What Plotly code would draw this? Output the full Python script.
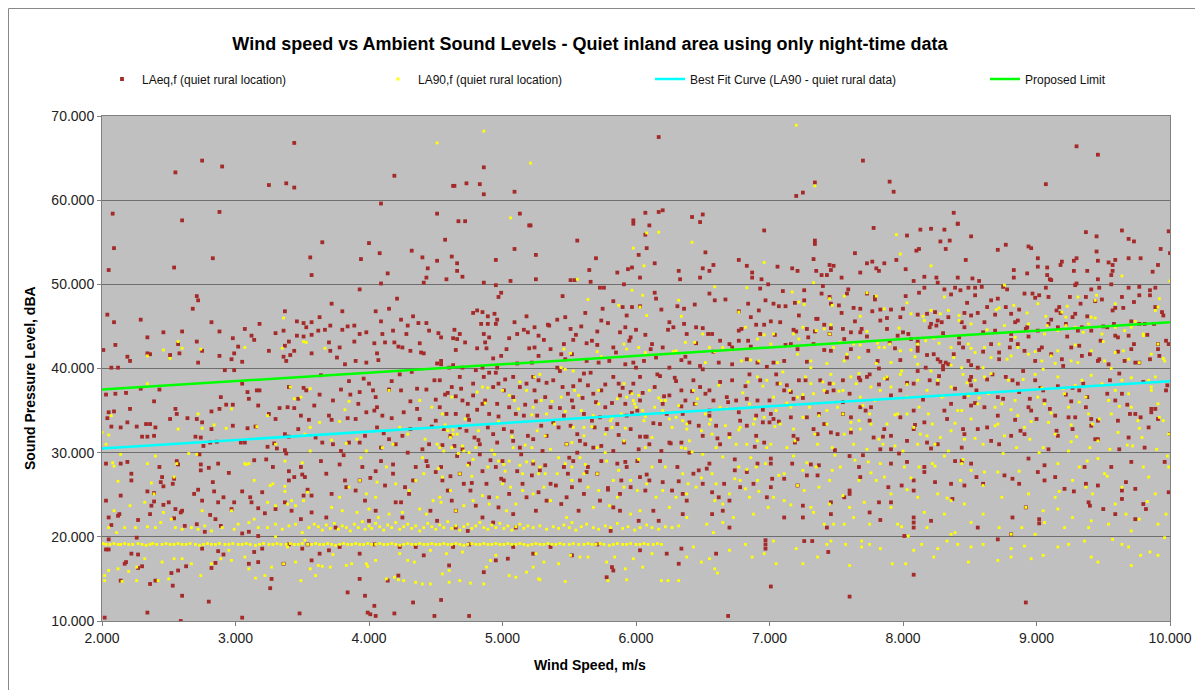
import plotly.graph_objects as go

# ---------------- LAeq,f (quiet rural location): (wind speed m/s, dBA) ----------------
laeq_2_3 = [(2.03,36.9),(2.10,37.0),(2.18,37.1),(2.29,37.6),(2.43,37.5),(2.39,36.1),(2.55,35.2),(2.56,34.6),(2.51,34.0),(2.05,34.8),(2.09,34.9),(2.04,34.1),(2.07,33.1),(2.14,33.0),(2.19,33.6),(2.26,33.1),(2.33,33.4),(2.36,33.4),(2.40,33.0),(2.30,31.9),(2.34,31.9),(2.39,32.0),(2.21,35.2),(2.71,34.0),(2.64,34.1),(2.75,33.6),(2.82,32.8),(2.89,36.6),(2.93,35.7),(2.88,35.2),(2.82,34.9),(2.98,35.7),(2.98,33.2),(2.70,31.9),(2.74,31.8),(2.81,31.2),(2.86,31.3),(2.76,30.8),(2.03,28.7),(2.14,28.7),(2.19,28.9),(2.22,27.5),(2.22,26.7),(2.43,28.3),(2.45,27.1),(2.46,26.0),(2.44,26.5),(2.53,26.3),(2.54,26.9),(2.56,29.0),(2.57,28.6),(2.73,29.8),(2.74,28.6),(2.74,27.9),(2.80,28.2),(2.87,28.7),(2.83,26.5),(2.84,25.4),(2.91,24.7),(2.95,27.6),(2.72,25.6),(2.69,25.1),(2.03,24.3),(2.14,24.9),(2.34,25.4),(2.39,25.2),(2.39,24.2),(2.46,23.8),(2.50,24.1),(2.55,23.3),(2.60,23.1),(2.54,22.2),(2.59,22.9),(2.36,22.7),(2.27,22.0),(2.13,22.7),(2.12,22.5),(2.05,22.3),(2.07,21.4),(2.26,19.9),(2.05,19.7),(2.05,18.5),(2.03,18.5),(2.22,18.0),(2.27,17.9),(2.18,17.0),(2.17,16.8),(2.30,16.5),(2.27,16.3),(2.14,14.8),(2.36,14.4),(2.40,14.8),(2.53,14.2),(2.52,15.7),(2.57,16.0),(2.63,16.5),(2.60,13.0),(2.80,12.3),(2.34,11.0),(2.59,10.0),(2.02,10.4),(2.62,21.3),(2.71,21.5),(2.85,22.1),(2.89,21.3),(2.87,18.3),(2.91,17.9),(2.82,16.3),(2.85,16.9),(2.75,18.6),(2.77,20.6),(2.81,22.6),(2.75,24.3),(2.87,24.1),(2.99,24.1),(2.97,23.3),(2.37,23.7),
    (2.75,64.7),(2.90,64.0),(2.55,63.3),(2.08,58.4),(2.88,58.6),(2.60,57.6),(2.09,54.3),(2.83,53.1),(2.05,51.7),(2.54,52.0),(2.71,48.6),(2.72,48.1),(2.68,47.1),(2.04,46.4),(2.09,45.5),(2.29,45.8),(2.82,45.5),(2.46,44.3),(2.60,44.4),(2.88,44.4),(2.34,43.7),(2.10,42.8),(2.57,42.9),(2.71,43.2),(2.01,42.2),(2.19,41.4),(2.21,40.9),(2.34,41.8),(2.36,41.7),(2.51,41.6),(2.58,41.8),(2.72,40.7),(2.75,42.1),(2.88,41.5),(2.98,43.6),(2.99,41.8),(2.97,41.1),(2.92,39.8),(2.99,39.8),(2.07,40.1),(2.12,40.1)]

laeq_3_36 = [(3.05,38.2),(3.09,37.2),(3.16,37.4),(3.18,37.4),(3.10,36.4),(3.17,35.6),(3.25,34.6),(3.30,34.0),(3.33,35.3),(3.39,35.4),(3.44,35.3),(3.49,34.4),(3.55,33.9),(3.59,35.6),(3.51,37.7),(3.53,37.4),(3.47,36.4),(3.40,37.8),(3.09,32.9),(3.15,33.1),(3.07,31.2),(3.04,31.2),(3.24,30.7),(3.29,31.1),(3.31,30.5),(3.37,32.2),(3.40,31.9),(3.47,32.8),(3.60,31.8),(3.14,29.1),(3.23,29.2),(3.28,28.3),(3.37,30.3),(3.38,29.9),(3.40,27.8),(3.44,27.1),(3.40,26.7),(3.49,28.3),(3.50,27.4),(3.52,27.1),(3.54,25.6),(3.57,24.9),(3.05,25.4),(3.11,24.7),(3.12,24.1),(3.20,25.3),(3.17,23.4),(3.22,22.8),(3.30,23.3),(3.37,24.1),(3.42,23.1),(3.49,22.1),(3.51,24.9),(3.57,22.9),(3.05,20.4),(3.10,20.6),(3.17,20.1),(3.20,18.6),(3.14,18.2),(3.17,17.0),(3.26,13.9),(3.05,10.4),(3.48,10.9),(3.50,18.6),(3.57,17.2),(3.54,19.1),(3.40,19.1),(3.36,16.8),(3.27,15.0),(3.10,16.8),
    (3.44,66.8),(3.25,61.8),(3.38,62.0),(3.44,61.5),(3.56,53.2),(3.57,51.1),(3.02,42.6),(3.05,40.8),(3.07,44.7),(3.12,43.9),(3.14,43.4),(3.18,45.3),(3.25,42.1),(3.30,44.2),(3.36,44.5),(3.37,46.8),(3.46,45.6),(3.51,45.4),(3.53,44.9),(3.57,45.5),(3.46,43.9),(3.51,43.8),(3.57,44.0),(3.40,43.2),(3.37,42.7),(3.44,42.1),(3.41,41.6),(3.38,40.9),(3.36,41.4),(3.57,41.8)]

laeq_36_52 = [(4.86,63.9),(4.63,61.7),(4.64,61.7),(4.73,62.0),(4.83,61.9),(4.86,60.7),(5.09,61.0),(4.19,62.9),(4.09,59.6),(5.13,58.4),(4.51,58.4),(4.67,57.5),(4.72,57.5),(3.65,55.0),(4.00,54.9),(4.08,53.7),(3.94,53.0),(4.32,54.0),(4.40,53.2),(4.51,52.8),(4.57,55.3),(4.62,53.3),(4.66,52.5),(4.66,51.6),(4.70,50.9),(4.58,50.6),(4.44,51.9),(4.43,50.8),(4.41,50.2),(4.14,51.3),(4.09,50.1),(3.93,49.4),(5.09,54.2),(4.95,52.9),(4.86,50.2),(4.95,49.9),(5.06,50.4),(5.20,57.0),
    (3.72,47.7),(3.80,46.8),(3.63,46.1),(3.71,45.1),(3.62,44.5),(3.67,44.6),(3.80,44.6),(3.84,45.0),(3.89,45.1),(3.93,44.1),(3.98,44.3),(4.05,46.8),(4.15,47.1),(4.21,48.3),(4.09,45.6),(4.18,44.5),(4.10,44.1),(4.04,43.0),(4.12,43.1),(4.24,45.8),(4.29,45.1),(4.28,44.1),(4.33,46.2),(4.37,45.4),(4.43,45.4),(4.45,44.5),(4.38,43.0),(4.25,42.5),(4.31,42.1),(4.39,41.9),(4.19,43.1),(4.06,41.8),(3.98,40.7),(3.90,40.9),(3.82,40.5),(3.71,42.1),(3.70,43.1),(3.78,42.5),(4.54,43.7),(4.64,44.6),(4.68,44.1),(4.66,43.5),(4.63,43.6),(4.65,42.2),(4.54,40.9),(4.51,40.6),(4.78,46.6),(4.81,46.9),(4.85,46.7),(4.89,46.2),(4.94,46.5),(4.96,45.8),(4.95,45.3),(4.89,45.3),(4.86,44.1),(4.90,43.7),(4.87,43.1),(4.81,42.4),(4.88,42.4),(4.97,48.5),(4.99,49.0),(4.99,41.5),(5.03,42.3),(5.09,45.5),(5.11,44.1),(5.16,44.6),(5.19,44.3),(5.18,46.2),(4.96,40.1),(4.90,39.5),(4.85,40.1),(4.70,40.1),(4.60,40.1),(4.54,40.5),
    (3.63,36.9),(3.73,36.2),(3.79,37.5),(3.85,38.5),(3.92,35.8),(4.03,37.4),(4.05,36.6),(4.06,35.4),(3.98,34.8),(3.90,34.0),(3.84,34.1),(3.70,34.4),(3.65,31.2),(3.73,31.0),(3.79,30.2),(3.85,31.2),(3.97,32.0),(4.06,33.0),(4.10,34.4),(4.17,34.1),(4.24,37.4),(4.31,36.1),(4.36,37.6),(4.43,37.5),(4.38,34.0),(4.31,32.8),(4.25,32.0),(4.20,31.0),(4.15,31.6),(4.09,30.6),(4.49,38.6),(4.53,38.6),(4.59,37.1),(4.62,37.8),(4.65,36.7),(4.70,36.2),(4.74,35.8),(4.78,36.8),(4.81,35.1),(4.85,35.8),(4.93,37.8),(4.97,38.2),(5.01,37.4),(5.08,36.6),(5.13,37.8),(5.18,38.2),(5.05,35.4),(5.10,34.6),(5.16,34.4),(4.53,35.4),(4.50,33.8),(4.56,32.8),(4.61,32.0),(4.68,33.0),(4.73,32.6),(4.79,31.8),(4.83,31.0),(4.89,33.0),(4.93,32.2),(4.96,31.2),(5.01,32.8),(5.08,31.4),(5.13,30.6),(5.19,32.0),(4.45,31.0),(4.40,30.4),(4.64,30.8),(4.70,30.4),(4.50,36.3),(4.58,34.6),(4.65,34.6),(4.74,34.4),(4.90,34.6),(4.96,35.8),(4.78,38.2),(4.68,39.0),(4.86,39.0),(4.95,39.5),(5.08,39.0),(4.23,39.3),(4.17,38.5),(3.93,37.2),(4.00,38.2),
    (3.64,29.0),(3.78,28.6),(3.82,26.7),(3.83,25.9),(3.93,26.7),(3.97,24.3),(4.05,23.1),(4.00,21.9),(4.09,29.0),(4.05,27.8),(4.12,26.1),(4.18,27.5),(4.24,24.1),(4.25,22.3),(4.30,25.1),(4.33,26.7),(4.35,28.3),(4.43,29.0),(4.50,27.7),(4.54,28.3),(4.55,26.7),(4.59,25.5),(4.62,24.3),(4.65,23.1),(4.68,27.5),(4.71,26.3),(4.75,28.7),(4.76,25.5),(4.80,23.7),(4.83,29.8),(4.85,27.8),(4.88,26.3),(4.90,24.7),(4.95,28.3),(4.97,23.5),(5.00,29.0),(5.01,26.7),(5.05,25.1),(5.08,22.7),(5.11,27.8),(5.15,26.3),(5.18,24.7),(4.46,23.1),(4.51,21.9),(4.65,21.1),(4.74,20.7),(4.85,22.3),(4.93,21.7),(5.10,21.1),(4.20,24.1),(4.27,25.9),(3.95,28.3),(3.90,25.5),(3.72,25.1),(3.68,22.3),(3.75,21.1),
    (3.63,18.0),(3.70,18.4),(3.78,18.8),(3.84,13.4),(3.97,13.0),(3.93,15.0),(3.99,11.0),(4.01,10.8),(4.04,11.8),(4.05,10.6),(4.19,10.9),(4.14,14.8),(4.22,15.4),(4.33,12.2),(4.41,17.8),(4.49,10.6),(4.54,12.5),(4.60,16.6),(4.75,10.6),(4.86,15.8),(4.95,17.2),(5.04,17.4),(5.08,18.8),(4.23,18.8),(4.35,18.8),(3.93,18.0),(4.04,19.1),(4.75,19.1),(4.63,18.8)]

laeq_52_68 = [(6.17,67.5),(5.21,57.0),(5.98,57.6),(6.07,58.5),(6.17,58.6),(6.20,58.8),(6.42,58.0),(6.50,58.3),(6.48,57.4),(6.10,57.0),(5.98,57.2),(6.07,55.9),(5.56,55.2),(5.25,53.5),(5.70,53.1),(6.02,53.5),(6.08,54.3),(6.14,52.5),(6.52,53.8),(6.77,52.9),(5.65,51.7),(5.86,51.4),(5.94,51.8),(5.97,52.0),(6.03,50.8),(6.32,51.6),(6.33,50.6),(6.48,50.8),(6.50,51.9),(6.55,51.6),(6.58,52.3),(5.25,50.6),(5.51,50.5),(5.54,50.5),(5.66,50.3),(5.73,49.6),(5.76,49.6),(5.91,50.0),(6.14,49.0),(6.15,48.3),(6.19,47.0),(5.93,46.3),(5.83,48.0),(5.97,47.3),(6.03,47.4),(5.90,47.3),(5.45,48.6),(5.62,46.6),(5.75,47.1),(6.31,47.4),(6.36,47.1),(6.44,47.6),(6.55,48.9),(6.59,48.1),(6.67,48.2),(6.77,46.8),(6.77,44.5),
    (5.24,44.9),(5.27,43.9),(5.31,43.4),(5.34,45.2),(5.41,45.8),(5.47,46.1),(5.51,44.7),(5.53,43.4),(5.59,45.0),(5.63,43.0),(5.67,43.3),(5.71,44.4),(5.74,45.7),(5.79,45.4),(5.83,42.5),(5.88,44.3),(5.92,44.9),(5.96,43.7),(6.00,44.6),(6.07,44.0),(6.12,42.9),(6.20,42.5),(6.25,45.5),(6.28,44.9),(6.36,45.3),(6.38,44.1),(6.45,44.9),(6.50,44.8),(6.54,44.1),(6.57,44.1),(6.63,43.3),(6.70,42.9),(6.77,43.3),(5.46,42.9),(5.24,42.5),(5.36,42.3),(5.44,41.7),(5.52,41.7),(5.63,40.9),(5.72,40.7),(5.80,40.9),(5.92,40.5),(5.98,40.7),(6.06,40.9),(6.15,41.3),(6.25,40.1),(6.34,41.0),(6.40,40.7),(6.48,40.3),(6.62,40.7),(6.72,42.5),(5.22,40.7),(5.41,40.1),
    (5.23,39.0),(5.24,37.4),(5.27,38.6),(5.32,36.6),(5.36,35.4),(5.26,34.4),(5.29,33.2),(5.33,32.0),(5.23,31.6),(5.38,38.6),(5.43,39.7),(5.45,37.8),(5.49,37.0),(5.52,36.2),(5.53,35.4),(5.46,34.4),(5.42,33.0),(5.51,33.2),(5.56,32.2),(5.48,31.0),(5.58,38.6),(5.61,39.4),(5.64,38.0),(5.68,37.0),(5.70,36.0),(5.74,37.4),(5.77,35.4),(5.61,34.6),(5.67,33.8),(5.73,34.2),(5.78,32.8),(5.62,31.0),(5.68,30.6),(5.83,39.0),(5.87,38.2),(5.88,36.8),(5.92,35.8),(5.96,37.2),(5.98,38.2),(6.03,39.0),(6.03,36.2),(6.01,35.0),(5.93,34.4),(5.86,33.4),(5.96,32.8),(6.03,31.9),(6.07,31.9),(6.08,31.9),(6.10,31.0),(5.91,31.2),(6.14,37.8),(6.18,39.1),(6.20,35.8),(6.23,34.6),(6.18,33.4),(6.25,36.8),(6.30,38.5),(6.34,37.4),(6.37,36.2),(6.35,34.6),(6.40,33.6),(6.44,35.8),(6.48,37.8),(6.52,37.0),(6.55,37.4),(6.58,36.2),(6.55,34.4),(6.60,33.2),(6.50,32.0),(6.63,31.0),(6.68,36.6),(6.72,38.6),(6.75,36.2),(6.78,33.8),(6.34,31.2),(6.25,31.2),(6.19,30.2),(5.83,30.2),(5.56,30.0),(6.70,32.2),(6.43,38.6),
    (5.23,28.7),(5.28,27.9),(5.32,28.5),(5.36,26.3),(5.27,25.3),(5.33,24.3),(5.25,23.1),(5.46,28.3),(5.49,27.5),(5.52,25.9),(5.48,24.7),(5.44,23.9),(5.53,29.0),(5.58,26.7),(5.61,25.1),(5.57,23.1),(5.64,28.3),(5.71,27.5),(5.73,24.3),(5.74,29.0),(5.79,25.8),(5.83,23.5),(5.86,28.7),(5.89,26.7),(5.88,25.1),(5.93,28.3),(5.96,25.9),(6.01,29.0),(6.03,27.1),(6.07,25.5),(6.10,26.7),(6.13,23.1),(6.17,21.9),(6.20,26.5),(6.27,25.5),(6.31,28.3),(6.35,25.1),(6.38,24.3),(6.43,27.5),(6.47,27.9),(6.50,26.3),(6.55,28.7),(6.57,25.3),(6.62,24.7),(6.65,23.1),(6.70,24.3),(6.74,27.9),(6.78,25.9),(6.02,21.9),(5.88,23.1),(5.81,20.7),(6.57,22.7),(6.70,21.1),(6.35,22.7),
    (5.23,18.0),(5.36,18.8),(5.52,17.8),(5.82,16.4),(5.78,15.2),(5.83,16.0),(6.03,18.4),(6.32,16.8),(6.34,18.6),(6.60,18.0),(6.69,10.6),(5.71,19.1),(6.23,18.0)]

laeq_68_84 = [(7.70,64.7),(7.90,62.2),(7.93,61.0),(7.34,62.1),(7.20,60.5),(7.25,60.9),(8.38,58.5),(8.41,57.2),(6.96,56.4),(7.78,56.7),(8.13,56.5),(8.21,56.6),(8.31,56.5),(8.03,55.8),(8.28,55.1),(8.35,55.2),(8.32,54.2),(7.34,55.2),(7.34,54.8),(7.64,53.7),(8.10,54.0),(8.12,54.2),(7.33,53.0),(7.73,52.5),(7.77,52.7),(7.86,52.5),(7.95,52.9),(8.02,51.8),(6.83,52.2),(7.06,52.1),(7.17,51.9),(7.21,51.6),(7.35,51.6),(7.39,51.1),(7.43,51.1),(7.45,52.3),(7.48,52.2),(7.46,51.7),(7.68,51.4),(7.80,51.9),(7.82,51.6),(7.54,50.8),(6.87,51.4),(6.87,50.8),(6.94,50.6),(6.99,50.0),(8.08,50.4),(8.16,50.9),(8.25,50.8),(8.26,50.2),(8.16,49.6),(8.31,49.4),(8.39,49.6),
    (6.93,49.5),(6.84,47.7),(6.97,48.1),(7.03,47.7),(7.07,47.4),(7.12,47.4),(7.19,47.8),(7.26,48.1),(7.26,49.3),(7.39,48.9),(7.46,47.7),(7.45,48.5),(7.58,48.9),(7.59,49.4),(7.63,47.2),(7.68,47.1),(7.73,48.9),(7.79,48.5),(7.83,47.0),(7.91,47.0),(7.98,46.1),(8.02,48.6),(8.11,46.4),(8.18,46.5),(8.21,45.3),(8.26,45.7),(8.29,45.5),(8.34,46.1),(6.86,46.1),(6.90,45.2),(6.96,45.2),(6.93,44.1),(6.84,43.3),(7.01,45.6),(7.08,45.5),(7.18,44.6),(7.20,44.4),(7.28,44.7),(7.29,43.7),(7.35,45.9),(7.36,45.9),(7.41,45.2),(7.46,44.8),(7.45,44.1),(7.54,46.6),(7.55,44.7),(7.61,44.3),(7.68,44.3),(7.69,44.7),(7.77,46.8),(7.83,45.7),(7.88,44.7),(7.96,43.9),(8.00,44.3),(8.04,44.1),(8.11,43.2),(8.20,44.9),(8.25,45.1),(7.12,42.8),(7.21,42.3),(7.33,42.9),(7.41,42.2),(7.56,43.5),(7.61,42.3),(7.74,42.1),(7.81,40.9),(7.90,43.2),(7.98,41.0),(8.11,42.1),(8.11,42.5),(8.23,41.7),(8.26,41.1),(8.28,40.8),(8.30,40.3),(8.32,40.7),(8.34,40.5),(8.38,41.7),(7.11,40.9),(7.03,40.7),(6.91,40.7),(6.83,41.1),
    (6.85,39.3),(6.93,38.6),(7.05,39.3),(7.06,38.2),(7.11,37.4),(7.16,37.2),(7.18,36.4),(7.22,38.6),(7.27,38.6),(7.38,38.6),(7.45,38.2),(7.48,37.4),(7.55,38.6),(7.60,37.0),(7.68,38.6),(7.73,39.0),(7.75,39.3),(7.82,38.1),(7.88,38.8),(7.98,37.4),(8.08,38.2),(8.11,39.7),(8.17,40.1),(8.20,38.6),(8.26,38.2),(8.30,39.9),(6.83,36.4),(6.91,36.2),(7.00,36.2),(7.01,34.6),(6.90,34.4),(6.95,33.6),(7.00,33.6),(7.03,34.0),(6.83,33.2),(6.90,32.0),(6.96,31.2),(7.16,34.2),(7.18,32.0),(7.28,34.2),(7.33,32.8),(7.36,32.2),(7.41,33.4),(7.46,32.4),(7.51,32.2),(7.55,34.6),(7.61,34.2),(7.68,35.4),(7.72,35.0),(7.75,33.8),(7.78,31.8),(7.86,32.8),(7.91,32.0),(7.98,34.2),(8.03,31.4),(8.08,35.0),(8.16,33.6),(8.18,31.2),(8.26,31.0),(8.31,35.0),(8.36,35.8),(8.39,29.0),(7.21,31.6),(7.83,30.4),(7.91,30.4),(8.08,32.8),
    (6.83,27.7),(6.91,28.7),(6.88,26.3),(6.98,24.7),(7.01,25.9),(7.02,26.9),(7.11,26.9),(7.17,28.7),(7.21,26.1),(7.25,23.7),(7.25,22.3),(7.28,27.3),(7.36,27.3),(7.37,28.5),(7.46,22.7),(7.46,24.1),(7.56,24.7),(7.60,25.1),(7.60,25.5),(7.60,29.6),(7.67,28.3),(7.68,27.1),(7.75,22.9),(7.82,24.1),(7.89,25.9),(7.91,24.1),(7.83,22.0),(7.99,26.1),(8.08,26.7),(8.08,25.5),(8.08,22.3),(8.08,21.7),(8.08,21.1),(8.16,27.7),(8.16,28.3),(8.24,26.5),(8.36,26.3),(8.37,24.5),(8.21,21.9),(7.91,28.7),(8.03,28.9),(7.01,28.7),(7.11,22.3),
    (6.97,19.6),(6.97,19.1),(6.97,18.6),(7.26,19.5),(7.32,19.5),(7.44,18.2),(7.01,14.1),(7.60,12.9),(8.08,15.5),(8.01,20.1),(7.43,21.1)]

laeq_84_10 = [(9.07,61.9),(9.30,66.4),(9.46,65.4),(8.41,57.2),(8.51,55.7),(8.47,52.9),(8.71,54.1),(8.77,54.7),(8.94,54.5),(8.96,54.3),(9.01,53.1),(9.01,52.1),(9.08,52.0),(8.83,51.7),(8.83,50.8),(8.93,51.3),(9.19,52.7),(9.18,52.3),(9.28,52.8),(9.30,53.1),(9.28,51.6),(9.38,51.6),(9.37,56.2),(9.45,55.7),(9.45,53.9),(9.46,52.8),(9.54,52.6),(9.57,52.3),(9.59,52.9),(9.64,56.4),(9.69,55.4),(9.73,55.1),(9.69,53.1),(9.78,53.1),(9.87,51.5),(9.91,52.3),(9.93,54.2),(9.99,56.3),(10.00,53.7),(8.41,50.8),(8.52,50.7),(9.10,50.6),(9.11,50.5),(9.30,50.1),(9.46,50.6),(9.56,51.1),(9.57,51.6),
    (8.43,49.3),(8.49,49.6),(8.54,49.6),(8.59,49.7),(8.54,48.7),(8.63,47.3),(8.66,48.1),(8.71,48.3),(8.75,49.7),(8.77,47.3),(8.81,46.5),(8.86,45.7),(8.91,48.9),(8.97,48.9),(9.02,48.7),(9.07,49.6),(9.09,48.5),(9.15,46.9),(9.18,46.6),(9.25,48.5),(9.29,46.5),(9.33,47.7),(9.37,48.5),(9.41,49.4),(9.47,49.6),(9.49,48.2),(9.57,46.9),(9.59,47.2),(9.64,48.5),(9.69,49.6),(9.73,47.9),(9.77,49.7),(9.85,49.3),(9.85,48.7),(9.89,47.3),(9.94,46.7),(8.46,46.6),(8.44,45.5),(8.46,44.9),(8.51,46.3),(8.56,46.6),(8.61,45.5),(8.69,44.5),(8.81,44.1),(8.84,45.5),(8.92,44.7),(8.94,43.8),(9.01,44.5),(9.09,45.3),(9.16,44.9),(9.22,45.3),(9.27,46.1),(9.31,44.5),(9.34,44.9),(9.41,44.5),(9.48,43.3),(9.53,44.9),(9.58,45.3),(9.61,43.7),(9.69,43.9),(9.73,42.9),(9.77,45.3),(9.81,45.3),(9.88,45.3),(9.91,42.9),(9.97,43.3),(8.42,43.7),(8.45,42.5),(8.49,40.9),(8.56,40.1),(8.60,42.0),(8.66,42.9),(8.72,41.1),(8.80,42.5),(8.86,42.9),(8.91,42.1),(8.99,40.9),(9.04,42.5),(9.11,41.7),(9.19,41.1),(9.26,42.5),(9.34,41.5),(9.40,41.7),(9.46,40.9),(9.54,40.5),(9.61,42.0),(9.66,40.9),(9.71,42.3),(9.77,40.7),(9.85,41.1),(9.91,42.3),(9.99,42.9),
    (8.51,39.0),(8.50,38.6),(8.51,38.0),(8.55,37.4),(8.46,36.6),(8.51,35.6),(8.61,35.4),(8.67,39.3),(8.71,36.6),(8.71,34.4),(8.77,39.0),(8.82,38.6),(8.86,38.2),(8.87,37.2),(8.95,36.4),(8.99,38.6),(9.03,37.7),(9.06,36.2),(8.94,35.4),(9.00,34.0),(8.88,32.6),(8.91,32.2),(8.81,32.0),(8.72,31.0),(8.63,33.0),(8.56,32.8),(8.46,32.2),(8.44,30.6),(9.15,32.6),(9.16,32.0),(9.10,35.2),(9.16,37.9),(9.22,36.9),(9.27,37.7),(9.32,37.4),(9.38,36.6),(9.37,35.4),(9.41,34.0),(9.44,31.6),(9.46,31.6),(9.46,33.8),(9.55,38.6),(9.59,36.2),(9.64,37.0),(9.70,34.6),(9.74,34.6),(9.78,34.2),(9.84,33.0),(9.89,35.2),(9.91,34.0),(9.97,37.4),(10.00,32.2),(9.24,34.2),(9.27,32.8),(9.29,34.2),(9.61,33.8),(9.62,30.4),(9.69,31.8),(9.81,30.6),(9.86,35.2),(9.09,30.4),
    (8.44,29.0),(8.51,28.7),(8.55,27.1),(8.60,26.3),(8.46,26.1),(8.56,21.1),(8.76,27.3),(8.82,26.9),(8.87,26.3),(8.94,29.3),(9.01,27.7),(9.06,28.5),(9.06,26.7),(9.14,27.1),(9.21,25.7),(9.28,25.4),(9.36,28.3),(9.37,26.3),(9.39,24.1),(9.40,23.7),(9.46,26.1),(9.50,23.3),(9.56,28.3),(9.64,25.5),(9.64,24.5),(9.67,26.5),(9.71,28.9),(9.74,25.7),(9.80,23.9),(9.82,23.3),(9.96,28.9),(9.99,25.3),(8.82,22.3),(8.92,23.5),(9.02,22.1),(9.02,21.6),(9.59,22.7),(9.74,22.1),(8.81,20.3),(8.71,19.7),
    (8.92,12.2)]

# additional LAeq readings estimated in the densest parts of the cloud
laeq_dense_low = [(3.64,39.2),(3.68,27.5),(3.72,33.9),(3.76,41.3),(3.81,29.7),(3.86,36.9),(3.89,43.2),(3.93,31.2),(3.96,38.8),(4.01,27.0),(4.04,35.0),(4.07,41.0),(4.11,32.3),(4.15,37.5),(4.18,28.6),(4.22,42.6),(4.26,34.8),(4.29,30.0),
    (4.32,39.6),(4.36,35.2),(4.41,41.8),(4.44,28.4),(4.47,33.1),(4.52,44.2),(4.55,30.9),(4.57,36.9),(4.61,27.2),(4.63,40.4),(4.66,29.6),(4.69,37.6),(4.72,43.1),(4.75,33.9),(4.77,26.4),(4.80,39.8),(4.82,31.5),(4.84,45.3),(4.87,36.2),(4.91,29.1),(4.93,41.2),(4.97,34.3),(4.99,26.9),(5.02,38.7),(5.05,43.6),(5.07,32.5),(5.11,40.6),(5.14,29.8),(5.17,35.7),(5.20,42.4),(5.22,27.3),(5.25,36.1),(5.27,41.5),(5.30,30.2),(5.33,38.3),(5.35,45.1),(5.38,33.6),(5.40,26.1),(5.43,35.3),(5.47,41.1),(5.50,29.4),(5.53,37.9),(5.55,44.0),(5.58,31.4),(5.60,36.5),(5.63,27.7),(5.66,39.5),(5.69,33.0),(5.71,42.8),(5.74,30.8),(5.77,38.1),(5.79,25.6),(5.82,35.9),(5.85,41.9),(5.87,32.1),(5.90,37.7),(5.92,28.9),(5.95,43.3),(5.97,34.7),(6.00,40.1),(6.02,30.4),(6.05,37.1),(6.08,27.4),(6.11,42.3),(6.13,33.5),(6.16,39.3),(6.18,29.0),(6.21,36.7),(6.24,44.6),(6.26,31.1),(6.29,38.9),(6.32,26.6),(6.34,35.5),(6.37,41.4),(6.40,30.0),(6.42,37.3),(6.45,43.0),(6.47,33.2),(6.50,39.9),(6.53,28.1),(6.55,35.0),(6.58,42.0),(6.61,31.7),(6.63,38.4),(6.66,26.3),(6.69,36.0),(6.72,40.5),(6.74,29.2),(6.77,34.8),(6.79,44.7)]

laeq_dense_high = [(6.82,37.9),(6.86,42.6),(6.89,30.7),(6.92,46.9),(6.95,35.1),(6.98,40.2),(7.01,29.3),(7.04,44.0),(7.07,33.7),(7.10,49.2),(7.13,38.0),(7.16,42.9),(7.19,31.2),(7.22,46.3),(7.25,36.5),(7.28,40.8),(7.31,28.6),(7.34,44.4),(7.37,34.6),(7.40,49.8),(7.43,37.2),(7.46,42.1),(7.49,30.3),(7.52,47.5),(7.55,36.0),(7.58,41.3),(7.61,32.4),(7.64,45.6),(7.67,38.9),(7.70,29.7),(7.73,43.8),(7.76,35.4),(7.79,48.2),(7.82,40.0),(7.85,31.9),(7.88,46.0),(7.91,36.8),(7.94,42.4),(7.97,29.9),(8.00,47.1),(8.03,38.3),(8.06,43.5),(8.09,33.3),(8.12,49.0),(8.15,36.3),(8.18,41.6),(8.21,30.5),(8.24,46.7),(8.27,39.1),(8.30,44.2),(8.33,34.0),(8.36,48.8),(8.39,37.6),(8.42,43.0),(8.45,32.8),(8.48,47.8),(8.51,40.4),(8.54,35.9),(8.57,50.4),(8.60,44.3),(8.63,38.7),(8.66,31.4),(8.69,46.4),(8.72,41.9),(8.75,36.4),(8.78,49.4),(8.81,43.4),(8.84,33.9),(8.87,47.0),(8.90,39.7),(8.93,44.9),(8.96,35.0),(8.99,48.4),(9.02,42.2),(9.05,37.4),(9.08,51.1),(9.11,45.8),(9.14,34.4),(9.17,47.3),(9.20,40.3),(9.23,43.8),(9.26,36.1),(9.29,49.9),(9.32,42.7),(9.35,38.2),(9.38,46.2),(9.41,33.2),(9.44,48.0),(9.47,41.1),(9.50,45.0),(9.53,37.0),(9.56,50.0),(9.59,43.9),(9.62,39.4),(9.65,47.2),(9.68,35.7),(9.71,45.6),(9.74,40.7),(9.77,48.7),(9.80,38.4),(9.83,44.0),(9.86,34.8),(9.89,49.6),(9.92,41.5),(9.95,46.3),(9.98,38.0)]

# ---------------- LA90,f (quiet rural location) ----------------
la90_2_36 = [(3.36,46.0),(2.57,43.2),(2.46,42.2),(2.34,41.5),(2.51,41.2),(2.60,42.4),(2.74,42.3),(3.07,42.5),(3.35,42.4),(3.51,43.2),(3.53,43.1),(2.34,38.2),(2.07,34.4),(2.72,34.6),(2.97,35.2),(2.57,32.8),(2.75,32.9),(2.84,33.3),(2.93,32.9),(3.16,33.1),(3.24,34.4),(3.30,31.0),(3.41,37.8),(3.44,36.4),(3.49,36.6),(3.52,32.2),(3.56,37.6),(3.56,33.0),(2.00,32.4),(2.05,32.1),(2.03,31.0),(2.14,29.8),(2.08,28.8),(2.09,28.4),(2.34,28.7),(2.40,29.6),(2.65,29.9),(2.71,29.8),(3.08,28.6),(3.10,28.7),(3.37,29.0),(3.50,28.8),(3.56,30.2),(2.12,26.6),(2.37,26.4),(2.39,25.1),(2.54,27.1),(2.56,28.7),(3.07,28.7),(3.14,26.7),(3.26,26.1),(3.28,26.3),(3.37,26.0),(3.37,25.4),(3.39,23.9),(3.42,24.3),(3.51,24.3),(3.54,25.3),(2.09,23.1),(2.21,23.7),(2.32,24.1),(2.46,22.9),(2.75,23.1),(2.97,23.1),(3.24,24.1),(3.30,23.7),(3.45,23.7),
    (2.02,15.4),(2.05,16.0),(2.02,14.8),(2.12,16.2),(2.20,15.9),(2.26,16.4),(2.32,17.4),(2.45,17.0),(2.54,17.4),(2.60,17.4),(2.67,16.8),(2.74,15.4),(2.82,16.8),(2.89,17.4),(2.97,17.2),(2.95,18.4),(3.07,17.6),(3.10,16.2),(3.15,15.1),(3.22,15.4),(3.27,16.4),(3.36,16.8),(3.45,17.0),(3.49,14.8),(3.56,16.2),(3.60,15.4),(2.15,14.7),(2.26,14.8),(2.42,14.8),(2.50,15.0),(3.30,20.0),(3.39,18.8),(3.52,19.6)]

la90_36_52 = [(4.86,68.2),(4.51,66.8),(5.06,57.9),(3.67,42.4),(4.15,37.4),(3.85,36.1),(3.82,35.1),(3.63,33.6),(3.72,31.5),(3.78,33.7),(3.83,31.1),(3.91,31.6),(3.98,30.2),(3.94,29.4),(4.10,30.6),(4.18,31.0),(4.23,33.0),(4.29,32.2),(4.38,36.2),(4.40,29.4),(4.55,34.6),(4.54,33.0),(4.59,32.6),(4.61,31.8),(4.66,32.2),(4.70,30.8),(4.71,30.2),(4.51,31.0),(4.53,30.6),(4.56,30.2),(4.62,30.6),(4.75,30.0),(4.78,29.2),(4.80,30.6),(4.89,28.3),(4.94,29.8),(4.97,29.0),(5.01,28.6),(5.05,29.0),(5.08,30.6),(5.13,28.5),(5.15,27.5),(5.18,28.9),(4.85,37.8),(4.89,37.7),(5.00,37.4),(5.05,36.8),(5.09,36.2),(5.13,38.4),(5.18,37.4),(4.81,37.2),(4.63,32.7),(4.63,32.2),(4.68,27.5),(4.74,28.5),(4.61,25.5),(4.55,27.1),(4.53,24.7),(4.48,24.3),(4.41,27.5),(4.35,26.7),(4.30,25.5),(4.20,26.3),(4.13,28.3),(4.06,26.5),(4.05,24.7),(3.98,25.1),(3.93,26.7),(3.85,25.9),(3.78,24.7),(3.72,23.5),(3.80,23.1),(3.91,22.9),(4.00,23.3),(4.07,22.3),(4.15,22.7),(4.25,22.9),(4.38,23.3),(4.43,22.7),(4.54,24.1),(4.65,23.1),(4.71,23.7),(4.78,24.3),(4.85,24.9),(4.90,23.9),(4.96,24.7),(5.03,23.1),(5.10,23.9),(5.15,25.5),(5.06,25.9),(5.00,26.3),
    (3.62,16.6),(3.65,16.5),(3.71,16.4),(3.73,17.9),(3.83,16.6),(3.87,16.8),(3.98,16.8),(3.99,16.5),(4.05,17.2),(4.13,15.0),(4.19,15.2),(4.22,14.9),(4.26,14.8),(4.29,17.2),(4.34,17.0),(4.35,14.6),(4.40,14.4),(4.46,14.4),(4.55,15.6),(4.60,16.0),(4.60,14.6),(4.68,14.8),(4.76,14.5),(4.86,14.4),(4.88,16.4),(4.91,17.2),(4.95,17.8),(5.05,15.4),(5.10,15.2),(5.18,15.8),(4.23,18.0),(4.46,18.4),(4.58,18.0),(4.70,18.2)]

la90_52_68 = [(5.21,64.4),(6.08,56.1),(6.17,56.2),(6.42,55.0),(5.98,54.3),(6.06,52.2),(5.56,50.6),(6.59,49.7),(5.97,49.3),(6.05,48.7),(6.32,48.1),(5.64,48.2),(5.87,47.5),(6.03,47.3),(6.08,46.3),(6.34,46.2),(5.71,42.0),(5.74,41.4),(5.91,42.9),(5.93,42.3),(6.02,42.5),(6.07,41.9),(6.28,42.0),(6.30,42.1),(6.37,43.1),(6.44,43.1),(6.50,44.1),(6.55,42.5),(6.59,42.0),(6.65,42.5),(6.77,46.7),(6.79,40.9),(5.51,41.8),(5.46,42.3),(5.44,40.1),(5.24,39.0),(5.28,39.3),
    (5.23,35.4),(5.29,36.2),(5.33,34.6),(5.26,32.6),(5.22,30.6),(5.39,33.4),(5.44,36.6),(5.47,39.9),(5.53,39.7),(5.54,37.4),(5.59,35.0),(5.61,33.0),(5.61,32.0),(5.68,34.4),(5.72,37.4),(5.77,32.2),(5.81,33.8),(5.82,33.0),(5.86,36.4),(5.89,34.6),(5.93,36.6),(5.98,36.2),(5.99,35.8),(6.00,35.4),(6.02,36.8),(6.05,35.0),(6.06,33.8),(6.10,37.4),(6.14,35.4),(6.19,36.2),(6.20,35.0),(6.22,36.2),(6.25,34.0),(6.30,34.2),(6.35,33.8),(6.38,33.4),(6.38,32.8),(6.43,37.4),(6.45,35.8),(6.49,32.6),(6.52,34.6),(6.55,33.4),(6.57,32.2),(6.63,35.4),(6.67,33.2),(6.70,31.8),(6.78,33.0),(6.75,31.0),(6.60,30.6),(6.40,31.4),(6.34,30.6),(6.07,30.6),(5.91,31.4),(5.71,30.6),(5.48,31.0),(5.36,30.4),(5.53,33.0),(5.91,38.2),
    (5.23,29.0),(5.28,28.3),(5.32,27.5),(5.31,25.9),(5.23,25.1),(5.36,24.3),(5.41,27.5),(5.47,28.7),(5.52,28.3),(5.52,26.7),(5.58,29.4),(5.61,27.5),(5.64,25.9),(5.71,27.5),(5.72,25.5),(5.78,29.0),(5.83,26.7),(5.86,24.7),(5.91,25.9),(5.96,26.7),(6.01,25.5),(6.08,26.3),(6.12,28.3),(6.15,24.7),(6.20,25.5),(6.30,24.7),(6.35,27.5),(6.38,25.1),(6.39,26.3),(6.45,25.9),(6.50,29.8),(6.57,27.5),(6.60,26.3),(6.65,23.9),(6.70,25.1),(6.77,28.3),(6.78,26.7),(5.48,22.3),(5.52,21.7),(5.68,23.5),(5.80,23.7),(5.96,22.7),(6.03,23.1),(6.25,23.5),(6.38,22.3),(6.53,21.5),(6.58,20.5),(6.65,21.7),(6.73,22.3),
    (5.25,18.0),(5.31,17.0),(5.23,16.4),(5.27,15.0),(5.42,16.8),(5.51,17.8),(5.58,17.6),(5.64,17.6),(5.78,17.0),(5.84,17.6),(5.92,16.2),(5.98,17.4),(6.05,16.4),(6.12,18.0),(6.19,14.8),(6.24,14.8),(6.32,14.8),(6.38,17.6),(6.43,18.8),(6.49,17.0),(6.55,17.4),(6.59,16.2),(6.61,15.7),(6.70,18.4),(5.28,14.9),(5.47,14.7),(5.79,14.8),(5.93,14.9)]

la90_68_84 = [(7.20,68.9),(7.34,61.7),(6.96,52.6),(7.33,50.2),(7.95,55.9),(7.98,53.6),(8.21,52.2),(6.83,49.6),(7.17,49.1),(7.22,47.9),(7.26,47.6),(7.45,48.3),(7.47,47.5),(7.56,48.6),(7.68,46.2),(7.73,49.0),(7.80,48.6),(7.86,47.1),(8.03,47.8),(8.06,46.5),(8.16,45.7),(8.21,46.9),(8.28,46.5),(8.31,48.5),(8.34,46.9),(6.82,44.9),(6.91,43.5),(6.96,44.0),(7.03,44.1),(7.18,44.1),(7.25,44.9),(7.35,44.5),(7.41,44.7),(7.45,44.1),(7.48,42.5),(7.53,43.1),(7.63,42.9),(7.68,42.8),(7.81,43.0),(7.86,42.5),(7.90,42.9),(7.98,42.1),(8.06,42.2),(8.11,42.9),(8.17,43.3),(8.23,43.6),(8.36,42.5),(8.38,41.3),(6.92,40.9),(7.06,40.7),(7.21,41.7),(7.31,40.9),(7.43,40.6),(7.56,40.9),(7.67,41.3),(7.80,40.6),(7.91,40.7),(7.99,39.7),(8.11,40.5),
    (6.84,38.4),(6.91,39.0),(6.98,38.6),(7.03,36.6),(7.08,38.2),(7.15,37.4),(7.21,36.6),(7.27,39.0),(7.31,38.2),(7.33,37.0),(7.41,37.4),(7.46,39.3),(7.48,38.2),(7.55,37.4),(7.61,39.0),(7.65,38.2),(7.68,36.6),(7.76,37.8),(7.83,37.4),(7.86,38.8),(7.91,37.8),(7.98,39.3),(8.03,36.6),(8.11,38.6),(8.18,37.4),(8.26,38.6),(8.29,36.6),(8.36,37.8),(6.85,35.8),(6.88,33.4),(6.96,34.2),(7.05,35.0),(7.08,33.4),(7.16,35.4),(7.18,32.8),(7.25,34.2),(7.30,35.4),(7.37,34.4),(7.43,33.4),(7.51,35.4),(7.55,34.6),(7.56,32.2),(7.61,32.8),(7.67,33.8),(7.68,32.8),(7.75,34.6),(7.76,33.4),(7.82,31.6),(7.88,33.4),(7.96,34.6),(8.03,34.6),(8.08,33.0),(8.13,32.2),(8.19,34.6),(8.22,33.4),(8.28,31.8),(8.36,32.6),(8.41,35.0),(6.83,31.0),(6.91,31.4),(7.01,31.0),(7.13,30.6),(7.36,31.0),(7.47,30.6),(7.63,31.0),(7.73,30.4),(7.94,30.8),(8.11,31.0),(8.24,31.0),(8.34,30.2),
    (6.86,29.4),(6.90,28.3),(6.91,26.7),(6.85,24.7),(6.88,22.7),(6.99,23.5),(7.03,24.7),(7.11,24.3),(7.18,29.6),(7.21,26.1),(7.26,25.5),(7.31,23.5),(7.33,22.9),(7.41,21.5),(7.45,26.7),(7.47,27.9),(7.45,23.9),(7.48,21.5),(7.53,28.3),(7.56,21.5),(7.60,23.5),(7.63,22.3),(7.67,26.7),(7.71,24.1),(7.75,21.5),(7.80,26.7),(7.86,27.1),(7.91,25.1),(7.96,21.5),(7.99,21.2),(8.03,25.6),(8.11,24.7),(8.16,22.9),(8.18,21.1),(8.26,25.1),(8.31,22.7),(8.36,24.3),(8.39,20.5),(8.31,29.6),(8.22,28.7),(8.12,28.3),(8.01,28.3),(7.83,28.7),(7.74,28.9),(7.35,28.3),(7.25,27.9),(7.11,27.5),(6.97,28.7),(6.82,25.7),
    (6.82,19.1),(6.87,17.6),(6.96,18.0),(7.05,16.8),(7.03,19.5),(7.20,18.6),(7.25,16.8),(7.36,17.6),(7.43,19.1),(7.46,19.5),(7.57,19.1),(7.60,16.6),(7.69,18.8),(7.75,19.1),(7.83,18.6),(7.92,16.8),(8.02,16.8),(8.08,18.4),(8.14,19.1),(8.23,17.6),(8.26,18.6),(8.33,19.5),(8.36,20.3),(8.04,20.1),(7.69,19.5)]

la90_84_10 = [(9.64,51.0),(10.00,50.4),(8.76,49.9),(9.92,48.3),(9.91,47.3),(9.45,48.7),(9.44,48.1),(9.31,48.5),(9.41,46.1),(9.19,46.7),(9.22,46.1),(9.07,46.2),(9.01,47.7),(8.83,47.5),(8.70,47.0),(8.42,46.3),(8.51,45.3),(8.76,45.1),(8.94,45.3),(9.06,44.1),(9.16,44.5),(9.22,45.1),(9.29,44.9),(9.39,45.3),(9.49,44.1),(9.59,44.9),(9.66,44.5),(9.71,44.9),(9.80,44.1),(9.91,42.9),(8.49,42.9),(8.54,41.9),(8.61,42.5),(8.66,41.3),(8.72,42.9),(8.81,41.5),(8.86,42.5),(8.94,41.7),(9.04,40.9),(9.11,41.5),(9.16,42.1),(9.26,40.9),(9.31,40.7),(9.41,42.1),(9.51,40.9),(9.59,41.9),(9.69,41.1),(9.77,40.7),(9.86,41.7),(9.96,40.9),(8.44,40.1),(8.60,40.1),
    (8.45,39.3),(8.54,38.6),(8.49,36.8),(8.44,35.0),(8.51,34.0),(8.46,31.6),(8.61,39.0),(8.64,37.0),(8.69,35.4),(8.71,33.4),(8.76,32.0),(8.79,38.6),(8.84,36.2),(8.86,34.4),(8.91,33.0),(8.95,31.6),(8.99,39.3),(9.04,37.7),(9.06,35.8),(9.09,33.6),(9.14,32.2),(9.16,39.0),(9.21,37.0),(9.24,35.4),(9.26,33.3),(9.30,31.9),(9.34,38.6),(9.37,36.6),(9.39,34.6),(9.42,33.4),(9.46,31.4),(9.49,38.2),(9.54,36.2),(9.56,34.6),(9.61,32.4),(9.64,38.6),(9.69,37.0),(9.71,35.4),(9.76,33.8),(9.79,31.8),(9.84,38.6),(9.86,37.4),(9.91,35.8),(9.95,33.8),(9.99,32.2),(8.60,31.0),(8.85,30.6),(9.05,30.6),(9.24,30.2),(9.40,30.6),(9.55,30.4),(9.72,30.8),(9.90,30.4),(8.74,35.8),(9.01,36.6),(9.29,38.0),(9.59,37.4),(9.89,39.0),(8.56,35.8),
    (8.44,28.7),(8.51,27.9),(8.43,26.7),(8.46,23.9),(8.51,21.7),(8.60,22.7),(8.61,27.7),(8.71,27.7),(8.74,24.7),(8.81,20.3),(8.89,21.1),(8.92,23.5),(8.94,25.1),(8.99,20.3),(9.05,23.1),(9.06,21.7),(9.14,24.7),(9.16,23.3),(9.21,21.1),(9.27,26.7),(9.27,22.3),(9.32,28.3),(9.37,25.9),(9.39,21.1),(9.41,21.9),(9.42,25.1),(9.46,29.3),(9.51,27.5),(9.54,21.5),(9.59,23.9),(9.64,25.9),(9.67,22.7),(9.71,20.7),(9.77,22.1),(9.80,28.3),(9.84,27.1),(9.89,25.1),(9.91,21.5),(9.97,22.7),(9.99,28.3),(8.72,21.1),(9.16,28.7),
    (8.41,19.1),(8.51,18.8),(8.60,19.1),(8.49,17.0),(8.71,17.2),(8.81,18.6),(8.81,17.6),(8.91,18.9),(8.96,17.4),(9.05,17.8),(9.16,18.8),(9.24,19.1),(9.36,19.5),(9.41,17.6),(9.46,17.0),(9.57,19.7),(9.64,19.1),(9.69,18.8),(9.71,16.6),(9.78,17.8),(9.85,18.2),(9.91,17.8),(9.96,19.9)]

# additional LA90 readings estimated in the densest parts of the cloud
la90_dense_mid = [(4.42,31.6),(4.47,35.4),(4.52,28.1),(4.57,33.3),(4.62,36.6),(4.67,29.9),(4.72,34.0),(4.77,27.2),(4.82,32.6),(4.87,35.9),(4.92,30.3),(4.97,33.7),(5.02,27.8),(5.07,31.9),(5.12,35.2),(5.17,30.9),(5.22,34.5),(5.27,27.5),(5.32,32.0),(5.37,36.1),(5.42,29.4),(5.47,34.9),(5.52,31.2),(5.57,36.8),(5.62,28.6),(5.67,33.1),(5.72,35.8),(5.77,30.0),(5.82,34.1),(5.87,27.9),(5.92,32.9),(5.97,37.0),(6.02,29.2),(6.07,34.3),(6.12,31.8),(6.17,36.5),(6.22,28.3),(6.27,33.0),(6.32,35.6),(6.37,30.5)]

la90_dense_high = [(6.42,30.1),(6.46,36.4),(6.49,27.0),(6.52,40.7),(6.56,33.9),(6.59,24.3),(6.62,38.0),(6.65,29.5),(6.68,35.2),(6.71,42.2),(6.74,26.9),(6.77,32.7),(6.80,37.1),(6.83,28.0),(6.86,41.0),(6.89,34.0),(6.92,25.4),(6.95,37.9),(6.98,30.6),(7.01,42.9),(7.04,33.1),(7.07,27.3),(7.10,39.6),(7.13,35.9),(7.16,23.8),(7.19,31.4),(7.22,43.5),(7.25,36.9),(7.28,28.8),(7.31,40.1),(7.34,32.2),(7.37,25.9),(7.40,38.4),(7.43,35.0),(7.46,45.2),(7.49,29.7),(7.52,37.3),(7.55,24.9),(7.58,41.7),(7.61,33.6),(7.64,29.1),(7.67,39.4),(7.70,35.6),(7.73,44.4),(7.76,27.6),(7.79,36.2),(7.82,42.5),(7.85,31.0),(7.88,39.0),(7.91,23.5),(7.94,34.5),(7.97,44.8),(8.00,30.2),(8.03,38.1),(8.06,27.0),(8.09,41.4),(8.12,35.4),(8.15,46.2),(8.18,32.0),(8.21,39.7),(8.24,28.4),(8.27,43.0),(8.30,36.7),(8.33,24.6),(8.36,40.4),(8.39,33.5),(8.42,45.7),(8.45,29.2),(8.48,38.3),(8.51,42.4),(8.54,31.7),(8.57,36.5),(8.60,26.1),(8.63,44.6),(8.66,39.4),(8.69,33.2),(8.72,47.2),(8.75,29.9),(8.78,41.1),(8.81,35.1),(8.84,43.7),(8.87,27.8),(8.90,38.7),(8.93,46.6),(8.96,33.7),(8.99,42.0),(9.02,30.0),(9.05,39.9),(9.08,45.1),(9.11,34.7),(9.14,40.6),(9.17,25.4),(9.20,37.6),(9.23,47.4),(9.26,31.3),(9.29,42.8),(9.32,36.0),(9.35,44.3),(9.38,29.0),(9.41,39.2),(9.44,46.0),(9.47,34.0),(9.50,43.2),(9.53,27.2),(9.56,40.0),(9.59,47.7),(9.62,35.5),(9.65,42.1),(9.68,30.9),(9.71,38.9),(9.74,45.6),(9.77,32.9),(9.80,43.9),(9.83,24.2),(9.86,37.8),(9.89,46.9),(9.92,34.2),(9.95,41.2),(9.98,29.6)]

# dense horizontal clusters of LA90 readings near 19 dB and 21 dB (low wind speeds)
la90_band19 = [(2.01,19.2),(2.03,19.1),(2.06,19.1),(2.09,19.2),(2.12,19.1),(2.14,19.1),(2.17,19.2),(2.20,19.1),(2.23,19.1),(2.27,19.2),(2.30,19.1),(2.33,19.0),(2.36,19.1),(2.38,19.2),(2.41,19.1),(2.45,19.1),(2.48,19.2),(2.51,19.1),(2.54,19.1),(2.57,19.2),(2.60,19.1),(2.63,19.1),(2.66,19.2),(2.70,19.1),(2.73,19.0),(2.76,19.1),(2.79,19.2),(2.82,19.1),(2.85,19.1),(2.88,19.2),(2.92,19.1),(2.95,19.1),(2.98,19.2),(3.02,19.1),(3.05,19.1),(3.08,19.2),(3.11,19.1),(3.15,19.0),(3.18,19.1),(3.21,19.2),(3.25,19.1),(3.28,19.1),(3.31,19.2),(3.34,19.1),(3.38,19.1),(3.41,19.2),(3.44,19.1),(3.47,19.1),(3.50,19.2),(3.54,19.1),(3.57,19.1),(3.60,19.2),(3.63,19.1),(3.66,19.1),(3.69,19.2),(3.72,19.1),(3.75,19.0),(3.78,19.1),(3.81,19.2),(3.84,19.1),(3.87,19.1),(3.90,19.2),(3.93,19.1),(3.96,19.1),(3.99,19.2),(4.02,19.1),(4.05,19.1),(4.08,19.2),(4.11,19.1),(4.14,19.1),(4.17,19.2),(4.20,19.1),(4.23,19.0),(4.26,19.1),(4.29,19.2),(4.32,19.1),(4.35,19.1),(4.38,19.2),(4.41,19.1),(4.44,19.1),(4.47,19.2),(4.50,19.1),(4.53,19.1),(4.56,19.2),(4.59,19.1),(4.62,19.1),(4.65,19.2),(4.68,19.1),(4.71,19.0),(4.74,19.1),(4.77,19.2),(4.80,19.1),(4.83,19.1),(4.86,19.2),(4.89,19.1),(4.92,19.1),(4.95,19.2),(4.98,19.1),(5.01,19.1),(5.04,19.2),(5.07,19.1),(5.10,19.1),(5.13,19.2),(5.16,19.1),(5.19,19.0),(5.22,19.1),(5.25,19.2),(5.28,19.1),(5.31,19.1),(5.34,19.2),(5.37,19.1),(5.40,19.1),(5.43,19.2),(5.46,19.1),(5.50,19.1),(5.53,19.2),(5.57,19.1),(5.61,19.1),(5.64,19.2),(5.67,19.1),(5.70,19.1),(5.73,19.2),(5.76,19.1),(5.80,19.0),(5.83,19.1),(5.86,19.2),(5.90,19.1),(5.93,19.1),(5.96,19.2),(6.00,19.1),(6.03,19.1),(6.06,19.2),(6.09,19.1),(6.13,19.1),(6.16,19.2),(6.19,19.1)]

la90_band21 = [(2.05,21.1),(2.11,20.5),(2.17,21.1),(2.25,21.1),(2.34,21.2),(2.40,21.1),(2.44,21.7),(2.52,22.1),(2.55,21.1),(2.60,20.9),(2.67,21.1),(2.72,20.9),(2.77,21.3),(2.82,20.7),(2.90,21.1),(2.99,20.9),(3.02,21.5),(3.10,21.7),(3.14,22.1),(3.17,21.1),(3.24,21.1),(3.30,21.5),(3.35,20.9),(3.40,21.3),(3.45,21.5),(3.50,20.5),(3.55,21.1),(3.59,21.5),
    (3.62,21.2),(3.65,20.8),(3.68,21.4),(3.71,21.0),(3.74,21.6),(3.77,20.9),(3.80,21.3),(3.83,21.1),(3.86,20.7),(3.89,21.5),(3.92,21.1),(3.95,21.8),(3.97,20.9),(4.00,21.3),(4.02,21.0),(4.05,21.6),(4.08,21.2),(4.11,20.8),(4.14,21.4),(4.17,21.1),(4.20,21.7),(4.23,20.9),(4.26,21.2),(4.29,21.5),(4.32,21.0),(4.35,21.3),(4.38,20.7),(4.41,21.1),(4.44,21.6),(4.47,21.2),(4.50,20.9),(4.53,21.4),(4.56,21.1),(4.59,21.8),(4.62,21.0),(4.65,21.3),(4.68,20.8),(4.71,21.2),(4.74,21.5),(4.77,21.0),(4.80,21.3),(4.83,21.7),(4.86,21.1),(4.89,20.9),(4.92,21.4),(4.95,21.1),(4.98,21.6),(5.01,21.0),(5.04,21.3),(5.07,20.8),(5.10,21.2),(5.13,21.5),(5.16,21.0),(5.19,21.3),
    (5.23,21.1),(5.28,21.3),(5.33,20.9),(5.38,21.2),(5.42,21.0),(5.46,21.4),(5.50,21.1),(5.55,20.8),(5.59,21.2),(5.63,21.5),(5.68,21.1),(5.72,20.9),(5.77,21.3),(5.81,21.1),(5.86,21.6),(5.90,21.0),(5.94,21.2),(5.99,20.8),(6.03,21.1),(6.08,21.4),(6.12,21.1),(6.17,20.9),(6.22,21.2),(6.27,21.1),(6.32,21.3)]

# ---------------- lines ----------------
fit_x = [2, 4, 6, 8, 10]
fit_y = [30.5, 32.5, 34.5, 36.5, 38.5]
limit_x = [2, 10]
limit_y = [37.5, 45.5]

y_ticks = [10, 20, 30, 40, 50, 60, 70]
x_ticks = [2, 3, 4, 5, 6, 7, 8, 9, 10]

laeq = laeq_2_3 + laeq_3_36 + laeq_36_52 + laeq_52_68 + laeq_68_84 + laeq_84_10 + laeq_dense_low + laeq_dense_high
la90 = (la90_2_36 + la90_36_52 + la90_52_68 + la90_68_84 + la90_84_10 + la90_dense_mid + la90_dense_high
        + la90_band19 + la90_band21)
laeq_x = [p[0] for p in laeq]
laeq_y = [p[1] for p in laeq]
la90_x = [p[0] for p in la90]
la90_y = [p[1] for p in la90]

FONT = "Liberation Sans, Arial, sans-serif"
OFF = 8                      # page body margin: figure coords = screen coords - OFF
W, H = 1203 - OFF, 690 - OFF
L, R, T, B = 102 - OFF, 1170 - OFF, 116 - OFF, 621 - OFF

def px_x(sx):  # screen x -> paper fraction
    return (sx - OFF - L) / (R - L)

def px_y(sy):  # screen y -> paper fraction
    return (B - (sy - OFF)) / (B - T)

fig = go.Figure()
fig.add_trace(go.Scatter(x=laeq_x, y=laeq_y, mode="markers", name="LAeq,f (quiet rural location)",
                         marker=dict(symbol="square", size=3.8, color="#a52a2a"), legend="legend"))
fig.add_trace(go.Scatter(x=la90_x, y=la90_y, mode="markers", name="LA90,f (quiet rural location)",
                         marker=dict(symbol="square", size=2.8, color="#ffff00"), legend="legend2"))
fig.add_trace(go.Scatter(x=fit_x, y=fit_y, mode="lines", name="Best Fit Curve (LA90 - quiet rural data)",
                         line=dict(color="#00ffff", width=2.5), legend="legend3"))
fig.add_trace(go.Scatter(x=limit_x, y=limit_y, mode="lines", name="Proposed Limit",
                         line=dict(color="#00ff00", width=2.5), legend="legend4"))

def leg(sx):
    return dict(x=(sx - OFF) / W, y=1 - (79 - OFF) / H, xref="container", yref="container",
                xanchor="left", yanchor="middle", orientation="h", bgcolor="rgba(0,0,0,0)",
                font=dict(family=FONT, size=12, color="#111"), itemwidth=30, borderwidth=0)

fig.update_layout(
    width=W, height=H,
    margin=dict(l=L, r=W - R, t=T, b=H - B, autoexpand=False),
    paper_bgcolor="white", plot_bgcolor="#c0c0c0",
    font=dict(family=FONT, size=14, color="#222"),
    title=dict(text="<b>Wind speed vs Ambient Sound Levels - Quiet inland area using only night-time data</b>",
               x=(590 - OFF) / W, y=1 - (44 - OFF) / H, xref="container", yref="container",
               xanchor="center", yanchor="middle", font=dict(family=FONT, size=18, color="#000")),
    showlegend=True,
    legend=leg(102), legend2=leg(378), legend3=leg(650), legend4=leg(985),
    xaxis=dict(range=[2, 10], tickvals=x_ticks, tickformat=".3f", showgrid=False, zeroline=False,
               showline=True, linecolor="#808080", linewidth=1, mirror=True,
               ticks="outside", ticklen=4, tickcolor="#808080", tickfont=dict(size=14, color="#222"),
               automargin=False),
    yaxis=dict(range=[10, 70], tickvals=y_ticks, tickformat=".3f", showgrid=True, gridcolor="#6e6e6e", gridwidth=1,
               zeroline=False, showline=True, linecolor="#808080", linewidth=1, mirror=True,
               ticks="outside", ticklen=4, tickcolor="#808080", tickfont=dict(size=14, color="#222"),
               automargin=False),
    annotations=[
        dict(text="<b>Sound Pressure Level, dBA</b>", xref="paper", yref="paper",
             x=px_x(30), y=px_y(378), textangle=-90, showarrow=False,
             xanchor="center", yanchor="middle", font=dict(family=FONT, size=14, color="#000")),
        dict(text="<b>Wind Speed, m/s</b>", xref="paper", yref="paper",
             x=px_x(590), y=px_y(665), showarrow=False,
             xanchor="center", yanchor="middle", font=dict(family=FONT, size=14, color="#000")),
    ],
    shapes=[dict(type="rect", xref="paper", yref="paper",
                 x0=px_x(8.5), x1=px_x(1196), y0=px_y(720), y1=px_y(8.5),
                 line=dict(color="#888888", width=1), fillcolor="rgba(0,0,0,0)", layer="below")],
)

fig.write_html("out.html")
